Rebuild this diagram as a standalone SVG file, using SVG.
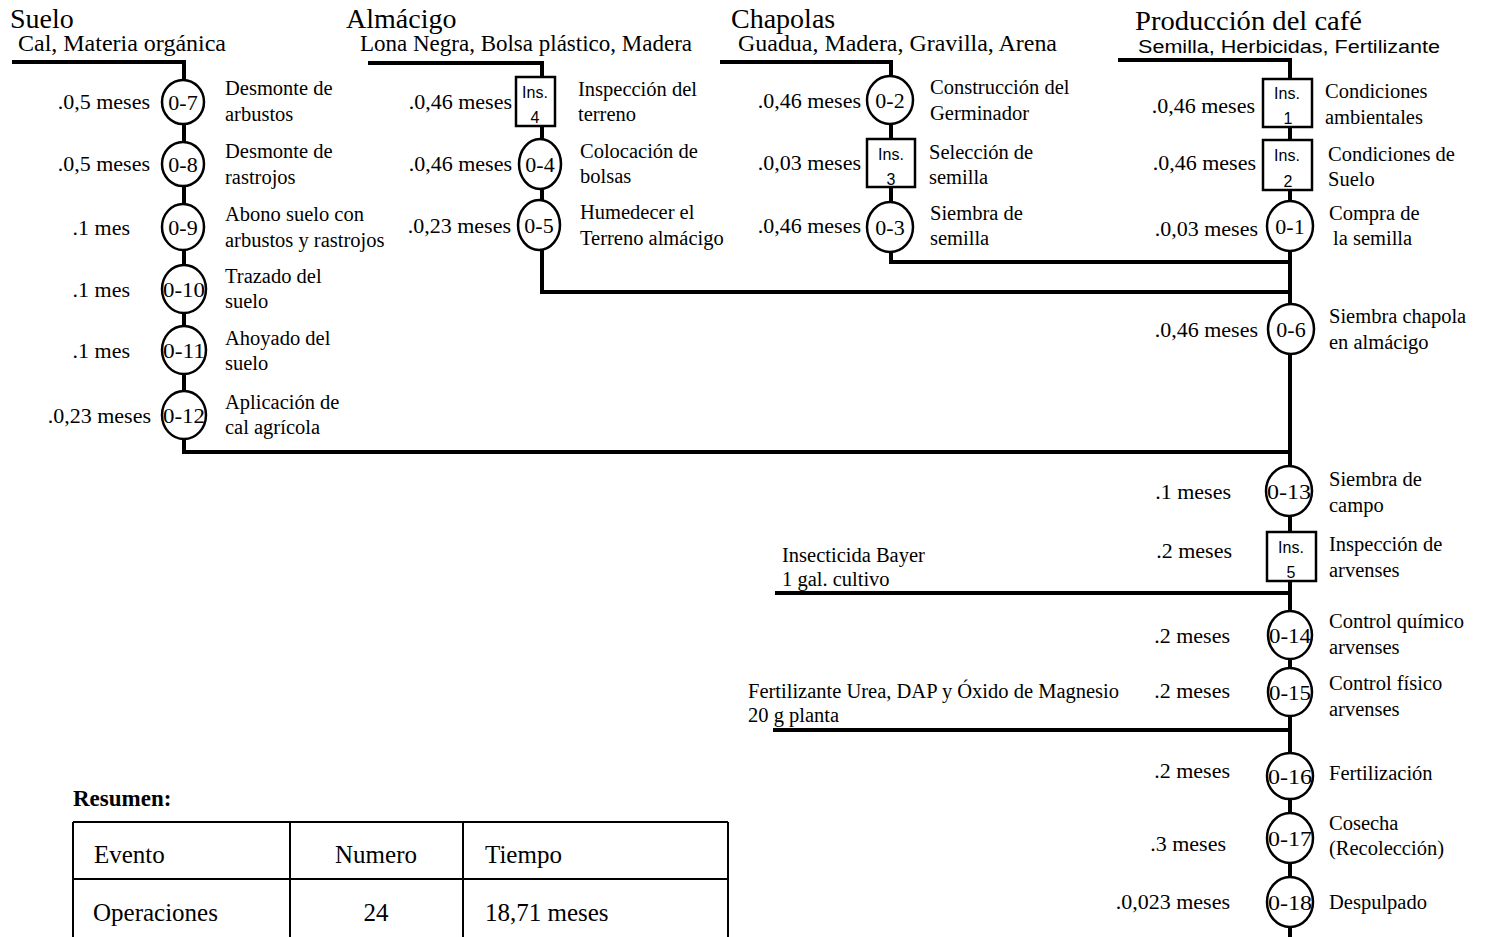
<svg xmlns="http://www.w3.org/2000/svg" width="1487" height="937" viewBox="0 0 1487 937">
<style>
.ln{stroke:#000;stroke-width:4;fill:none}
.thin{stroke:#000;stroke-width:2;fill:none}
.op{fill:#fff;stroke:#000;stroke-width:2.5}
.ib{fill:#fff;stroke:#000;stroke-width:2.5}
text{font-family:"Liberation Serif","Times New Roman",serif;fill:#000}
.hd{font-size:28px}
.sub{font-size:23px}
.sans{font-family:"Liberation Sans",Arial,sans-serif;font-size:18px}
.tm{font-size:22px;text-anchor:end}
.ds{font-size:20.5px}
.id{font-size:22px;text-anchor:middle}
.ins{font-family:"Liberation Sans",Arial,sans-serif;font-size:16px;text-anchor:middle}
.tb{font-size:25px}
.bold{font-size:23px;font-weight:bold}
</style>
<rect width="1487" height="937" fill="#fff"/>

<g id="headers">
<text class="hd" x="10" y="28">Suelo</text>
<text class="sub" x="18" y="51" textLength="208" lengthAdjust="spacingAndGlyphs">Cal, Materia orgánica</text>
<text class="hd" x="346" y="28">Almácigo</text>
<text class="sub" x="360" y="51" textLength="332" lengthAdjust="spacingAndGlyphs">Lona Negra, Bolsa plástico, Madera</text>
<text class="hd" x="731" y="28">Chapolas</text>
<text class="sub" x="738" y="51" textLength="319" lengthAdjust="spacingAndGlyphs">Guadua, Madera, Gravilla, Arena</text>
<text class="hd" x="1135" y="30" textLength="227" lengthAdjust="spacingAndGlyphs">Producción del café</text>
<text class="sans" x="1138" y="53" textLength="302" lengthAdjust="spacingAndGlyphs">Semilla, Herbicidas, Fertilizante</text>
</g>

<g id="connectors">
<path class="ln" d="M12,62 H184 V452 H1290"/>
<path class="ln" d="M368,63 H542 V292 H1292"/>
<path class="ln" d="M720,62 H891 V262 H1292"/>
<path class="ln" d="M1118,60 H1290 V937"/>
<path class="ln" d="M775,593 H1290"/>
<path class="ln" d="M773,730 H1290"/>
</g>

<!-- Suelo -->
<g id="n0-7"><ellipse class="op" cx="183" cy="102" rx="21" ry="22"/><text class="id" x="183" y="110">0-7</text>
<text class="tm" x="150" y="109">.0,5 meses</text><text class="ds" x="225" y="95">Desmonte de</text><text class="ds" x="225" y="121">arbustos</text></g>
<g id="n0-8"><ellipse class="op" cx="183" cy="164" rx="21" ry="22"/><text class="id" x="183" y="172">0-8</text>
<text class="tm" x="150" y="171">.0,5 meses</text><text class="ds" x="225" y="158">Desmonte de</text><text class="ds" x="225" y="184">rastrojos</text></g>
<g id="n0-9"><ellipse class="op" cx="183" cy="227" rx="21" ry="23"/><text class="id" x="183" y="235">0-9</text>
<text class="tm" x="130" y="235">.1 mes</text><text class="ds" x="225" y="221">Abono suelo con</text><text class="ds" x="225" y="247">arbustos y rastrojos</text></g>
<g id="n0-10"><ellipse class="op" cx="184" cy="289" rx="22" ry="24"/><text class="id" x="184" y="297" textLength="42" lengthAdjust="spacingAndGlyphs">0-10</text>
<text class="tm" x="130" y="297">.1 mes</text><text class="ds" x="225" y="283">Trazado del</text><text class="ds" x="225" y="308">suelo</text></g>
<g id="n0-11"><ellipse class="op" cx="184" cy="350" rx="22" ry="24"/><text class="id" x="184" y="358" textLength="42" lengthAdjust="spacingAndGlyphs">0-11</text>
<text class="tm" x="130" y="358">.1 mes</text><text class="ds" x="225" y="345">Ahoyado del</text><text class="ds" x="225" y="370">suelo</text></g>
<g id="n0-12"><ellipse class="op" cx="184" cy="415" rx="22" ry="24"/><text class="id" x="184" y="423" textLength="42" lengthAdjust="spacingAndGlyphs">0-12</text>
<text class="tm" x="151" y="423">.0,23 meses</text><text class="ds" x="225" y="409">Aplicación de</text><text class="ds" x="225" y="434">cal agrícola</text></g>

<!-- Almácigo -->
<g id="ins4"><rect class="ib" x="516" y="77" width="39" height="49"/><text class="ins" x="535" y="98">Ins.</text><text class="ins" x="535" y="123">4</text>
<text class="tm" x="512" y="109">.0,46 meses</text><text class="ds" x="578" y="96">Inspección del</text><text class="ds" x="578" y="121">terreno</text></g>
<g id="n0-4"><ellipse class="op" cx="540" cy="164" rx="21" ry="25"/><text class="id" x="540" y="172">0-4</text>
<text class="tm" x="512" y="171">.0,46 meses</text><text class="ds" x="580" y="158">Colocación de</text><text class="ds" x="580" y="183">bolsas</text></g>
<g id="n0-5"><ellipse class="op" cx="539" cy="225" rx="21" ry="25"/><text class="id" x="539" y="233">0-5</text>
<text class="tm" x="511" y="233">.0,23 meses</text><text class="ds" x="580" y="219">Humedecer el</text><text class="ds" x="580" y="245">Terreno almácigo</text></g>

<!-- Chapolas -->
<g id="n0-2"><ellipse class="op" cx="890" cy="100" rx="23" ry="24"/><text class="id" x="890" y="108">0-2</text>
<text class="tm" x="861" y="108">.0,46 meses</text><text class="ds" x="930" y="94">Construcción del</text><text class="ds" x="930" y="120">Germinador</text></g>
<g id="ins3"><rect class="ib" x="867" y="139" width="48" height="48"/><text class="ins" x="891" y="160">Ins.</text><text class="ins" x="891" y="185">3</text>
<text class="tm" x="861" y="170">.0,03 meses</text><text class="ds" x="929" y="159">Selección de</text><text class="ds" x="929" y="184">semilla</text></g>
<g id="n0-3"><ellipse class="op" cx="890" cy="227" rx="23" ry="25"/><text class="id" x="890" y="235">0-3</text>
<text class="tm" x="861" y="233">.0,46 meses</text><text class="ds" x="930" y="220">Siembra de</text><text class="ds" x="930" y="245">semilla</text></g>

<!-- Producción del café -->
<g id="ins1"><rect class="ib" x="1263" y="79" width="49" height="48"/><text class="ins" x="1287" y="99">Ins.</text><text class="ins" x="1288" y="124">1</text>
<text class="tm" x="1255" y="113">.0,46 meses</text><text class="ds" x="1325" y="98">Condiciones</text><text class="ds" x="1325" y="124">ambientales</text></g>
<g id="ins2"><rect class="ib" x="1263" y="140" width="49" height="50"/><text class="ins" x="1287" y="161">Ins.</text><text class="ins" x="1288" y="187">2</text>
<text class="tm" x="1256" y="170">.0,46 meses</text><text class="ds" x="1328" y="161">Condiciones de</text><text class="ds" x="1328" y="186">Suelo</text></g>
<g id="n0-1"><ellipse class="op" cx="1290" cy="226" rx="23" ry="25"/><text class="id" x="1290" y="234">0-1</text>
<text class="tm" x="1258" y="236">.0,03 meses</text><text class="ds" x="1329" y="220">Compra de</text><text class="ds" x="1333" y="245">la semilla</text></g>
<g id="n0-6"><ellipse class="op" cx="1291" cy="329" rx="23" ry="25"/><text class="id" x="1291" y="337">0-6</text>
<text class="tm" x="1258" y="337">.0,46 meses</text><text class="ds" x="1329" y="323">Siembra chapola</text><text class="ds" x="1329" y="349">en almácigo</text></g>
<g id="n0-13"><ellipse class="op" cx="1289" cy="491" rx="23" ry="25"/><text class="id" x="1289" y="499" textLength="44" lengthAdjust="spacingAndGlyphs">0-13</text>
<text class="tm" x="1231" y="499">.1 meses</text><text class="ds" x="1329" y="486">Siembra de</text><text class="ds" x="1329" y="512">campo</text></g>
<g id="ins5"><rect class="ib" x="1267" y="532" width="49" height="49"/><text class="ins" x="1291" y="553">Ins.</text><text class="ins" x="1291" y="578">5</text>
<text class="tm" x="1232" y="558">.2 meses</text><text class="ds" x="1329" y="551">Inspección de</text><text class="ds" x="1329" y="577">arvenses</text></g>
<g id="n0-14"><ellipse class="op" cx="1290" cy="635" rx="22" ry="24"/><text class="id" x="1290" y="643" textLength="42" lengthAdjust="spacingAndGlyphs">0-14</text>
<text class="tm" x="1230" y="643">.2 meses</text><text class="ds" x="1329" y="628">Control químico</text><text class="ds" x="1329" y="654">arvenses</text></g>
<g id="n0-15"><ellipse class="op" cx="1290" cy="692" rx="22" ry="24"/><text class="id" x="1290" y="700" textLength="42" lengthAdjust="spacingAndGlyphs">0-15</text>
<text class="tm" x="1230" y="698">.2 meses</text><text class="ds" x="1329" y="690">Control físico</text><text class="ds" x="1329" y="716">arvenses</text></g>
<g id="n0-16"><ellipse class="op" cx="1290" cy="776" rx="23" ry="23"/><text class="id" x="1290" y="784" textLength="44" lengthAdjust="spacingAndGlyphs">0-16</text>
<text class="tm" x="1230" y="778">.2 meses</text><text class="ds" x="1329" y="780">Fertilización</text></g>
<g id="n0-17"><ellipse class="op" cx="1290" cy="838" rx="23" ry="25"/><text class="id" x="1290" y="846" textLength="44" lengthAdjust="spacingAndGlyphs">0-17</text>
<text class="tm" x="1226" y="851">.3 meses</text><text class="ds" x="1329" y="830">Cosecha</text><text class="ds" x="1329" y="855">(Recolección)</text></g>
<g id="n0-18"><ellipse class="op" cx="1290" cy="902" rx="23" ry="25"/><text class="id" x="1290" y="910" textLength="44" lengthAdjust="spacingAndGlyphs">0-18</text>
<text class="tm" x="1230" y="909">.0,023 meses</text><text class="ds" x="1329" y="909">Despulpado</text></g>

<!-- inputs -->
<g id="in-insecticida"><text class="ds" x="782" y="562">Insecticida Bayer</text><text class="ds" x="782" y="586">1 gal. cultivo</text></g>
<g id="in-fertilizante"><text class="ds" x="748" y="698">Fertilizante Urea, DAP y Óxido de Magnesio</text><text class="ds" x="748" y="722">20 g planta</text></g>

<!-- summary -->
<g id="resumen">
<text class="bold" x="73" y="806">Resumen:</text>
<path class="thin" d="M73,822 H728 M73,879 H728 M73,822 V937 M290,822 V937 M463,822 V937 M728,822 V937"/>
<text class="tb" x="94" y="863">Evento</text>
<text class="tb" x="376" y="863" text-anchor="middle">Numero</text>
<text class="tb" x="485" y="863">Tiempo</text>
<text class="tb" x="93" y="921">Operaciones</text>
<text class="tb" x="376" y="921" text-anchor="middle">24</text>
<text class="tb" x="485" y="921">18,71 meses</text>
</g>
</svg>
